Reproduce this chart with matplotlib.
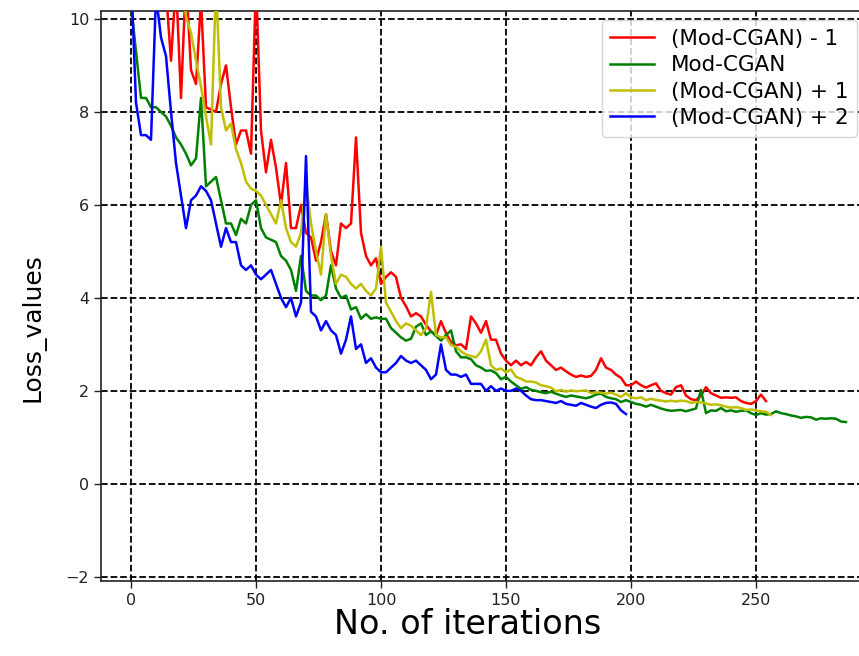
import numpy as np
import matplotlib
matplotlib.use("Agg")
import matplotlib.pyplot as plt

# Loss values recorded every 2 iterations
step = 2

loss_minus1 = [
    15.0, 14.0, 13.5, 12.8, 12.0, 11.5, 10.8, 10.6, 9.1, 10.8,
    8.3, 10.9, 8.9, 8.6, 10.4, 8.1, 8.05, 8.0, 8.6, 9.0,
    8.1, 7.3, 7.6, 7.6, 7.1, 10.8, 7.6, 6.7, 7.4, 6.8,
    6.0, 6.9, 5.5, 5.5, 6.0, 5.4, 5.3, 4.8, 5.2, 5.8,
    5.0, 4.7, 5.6, 5.5, 5.6, 7.45, 5.4, 4.9, 4.7, 4.85,
    4.3, 4.45, 4.55, 4.45, 4.0, 3.82, 3.6, 3.67, 3.6, 3.42,
    3.28, 3.2, 3.5, 3.24, 3.05, 2.98, 3.0, 2.9, 3.6, 3.45,
    3.25, 3.5, 3.1, 3.1, 2.8, 2.65, 2.55, 2.65, 2.55, 2.62,
    2.55, 2.72, 2.85, 2.65, 2.55, 2.45, 2.5, 2.42, 2.35, 2.3,
    2.33, 2.3, 2.32, 2.45, 2.7, 2.5, 2.45, 2.35, 2.28, 2.12,
    2.12, 2.2, 2.12, 2.07, 2.12, 2.16, 2.0, 1.95, 1.92, 2.08,
    2.12, 1.9, 1.82, 1.8, 1.9, 2.08, 1.95, 1.9, 1.85, 1.86,
    1.85, 1.86, 1.78, 1.74, 1.72, 1.78, 1.92, 1.78,
]

loss_base = [
    10.3, 9.3, 8.3, 8.3, 8.1, 8.1, 8.0, 7.9, 7.7, 7.45,
    7.3, 7.1, 6.85, 7.0, 8.3, 6.4, 6.5, 6.6, 6.1, 5.6,
    5.6, 5.35, 5.7, 5.6, 6.0, 6.1, 5.5, 5.3, 5.25, 5.2,
    4.9, 4.8, 4.6, 4.15, 4.9, 4.15, 4.05, 4.05, 3.95, 4.05,
    4.7, 4.2, 4.0, 4.05, 3.75, 3.8, 3.55, 3.65, 3.55, 3.58,
    3.55, 3.55, 3.35, 3.25, 3.15, 3.08, 3.12, 3.38, 3.45, 3.2,
    3.28, 3.18, 3.08, 3.2, 3.3, 2.85, 2.72, 2.72, 2.68, 2.55,
    2.5, 2.43, 2.44, 2.38, 2.25, 2.3, 2.2, 2.12, 2.04, 2.08,
    2.02, 2.0, 1.97, 1.95, 1.98, 1.94, 1.9, 1.87, 1.9, 1.88,
    1.86, 1.84, 1.87, 1.92, 1.94, 1.87, 1.84, 1.82, 1.76, 1.8,
    1.76, 1.72, 1.7, 1.66, 1.7, 1.66, 1.62, 1.59, 1.57, 1.58,
    1.59, 1.56, 1.59, 1.62, 2.02, 1.52, 1.58, 1.57, 1.63, 1.56,
    1.58, 1.55, 1.57, 1.58, 1.52, 1.48, 1.52, 1.49, 1.5, 1.56,
    1.52, 1.5, 1.47, 1.45, 1.42, 1.44, 1.43, 1.38, 1.41, 1.4,
    1.41, 1.4, 1.34, 1.33,
]

loss_plus1 = [
    16.0, 15.0, 14.5, 13.8, 13.0, 12.5, 12.0, 11.6, 11.2, 11.0,
    11.0, 10.05, 9.7, 9.1, 8.55, 7.9, 7.3, 10.8, 8.1, 7.6,
    7.75, 7.2, 6.9, 6.5, 6.35, 6.3, 6.2, 6.0, 5.8, 5.6,
    6.1, 5.5, 5.2, 5.1, 5.4, 6.5, 5.6, 5.0, 4.5, 5.8,
    4.9, 4.3, 4.5, 4.45, 4.3, 4.2, 4.3, 4.15, 4.05, 4.2,
    5.1, 3.9, 3.7, 3.5, 3.35, 3.45, 3.4, 3.3, 3.2, 3.35,
    4.13, 3.2, 3.15, 3.15, 2.98, 2.95, 2.85, 2.78, 2.75, 2.72,
    2.85, 3.1, 2.55, 2.45, 2.48, 2.4, 2.46, 2.3, 2.26, 2.2,
    2.2, 2.18, 2.12, 2.1, 2.07, 1.99, 2.02, 1.98, 2.01, 1.99,
    2.0, 2.01, 1.95, 1.97, 1.96, 1.94, 1.96, 1.92, 1.87, 1.95,
    1.86, 1.84, 1.86, 1.8, 1.83, 1.8, 1.79, 1.77, 1.79, 1.77,
    1.79, 1.78, 1.74, 1.76, 1.75, 1.73, 1.7, 1.71, 1.69, 1.66,
    1.64, 1.65, 1.63, 1.59, 1.6, 1.58, 1.56, 1.55, 1.48,
]

loss_plus2 = [
    11.0, 8.2, 7.5, 7.5, 7.4, 10.5, 9.6, 9.2, 8.0, 6.9,
    6.2, 5.5, 6.1, 6.2, 6.4, 6.3, 6.1, 5.6, 5.1, 5.5,
    5.2, 5.2, 4.7, 4.6, 4.7, 4.5, 4.4, 4.5, 4.6, 4.3,
    4.0, 3.8, 4.0, 3.6, 3.9, 7.05, 3.7, 3.6, 3.3, 3.5,
    3.3, 3.2, 2.8, 3.1, 3.6, 2.9, 3.0, 2.6, 2.7, 2.5,
    2.4, 2.4, 2.5, 2.6, 2.75, 2.65, 2.6, 2.65, 2.55, 2.45,
    2.25, 2.35, 3.0, 2.45, 2.35, 2.35, 2.3, 2.35, 2.15, 2.15,
    2.15, 2.0, 2.1, 2.0, 2.05, 2.0, 2.0, 2.05, 2.0, 1.9,
    1.82, 1.8, 1.8, 1.78, 1.76, 1.74, 1.78, 1.72, 1.7, 1.68,
    1.74, 1.7, 1.66, 1.63, 1.7, 1.74, 1.75, 1.72, 1.58, 1.5,
]

series_labels = ["(Mod-CGAN) - 1", "Mod-CGAN", "(Mod-CGAN) + 1", "(Mod-CGAN) + 2"]
series_values = [loss_minus1, loss_base, loss_plus1, loss_plus2]
series_colors = ["r", "g", "y", "b"]

x_ticks = [0, 50, 100, 150, 200, 250]
y_ticks = [-2, 0, 2, 4, 6, 8, 10]

W, H = 859, 656
fig = plt.figure(figsize=(W / 100, H / 100), dpi=100)
# axes run a little past the right edge of the canvas
ax = fig.add_axes([101 / W, 75 / H, 765 / W, 570 / H])

for label, vals, color in zip(series_labels, series_values, series_colors):
    iters = np.arange(len(vals)) * step
    ax.plot(iters, vals, color=color, lw=1.8, label=label, zorder=3)

ax.set_xlim(-12, 294)
ax.set_ylim(-2.09, 10.17)
ax.set_xticks(x_ticks)
ax.set_yticks(y_ticks)
ax.tick_params(labelsize=11.5, length=5, width=1.0, colors="#222222")
ax.grid(True, color="k", linestyle="--", linewidth=1.3, zorder=1)
for sp in ax.spines.values():
    sp.set_linewidth(1.2)
    sp.set_color("#222222")

ax.set_xlabel("No. of iterations", fontsize=24)
ax.set_ylabel("Loss_values", fontsize=18)
ax.xaxis.set_label_coords(0.479, -0.048)
ax.yaxis.set_label_coords(-0.073, 0.444)

ax.legend(loc="upper right", bbox_to_anchor=(857 / W, 1 - 20 / H),
          bbox_transform=fig.transFigure, borderaxespad=0,
          fontsize=15.5, labelspacing=0.3, handlelength=2.0)

fig.savefig("out.png", dpi=100)
